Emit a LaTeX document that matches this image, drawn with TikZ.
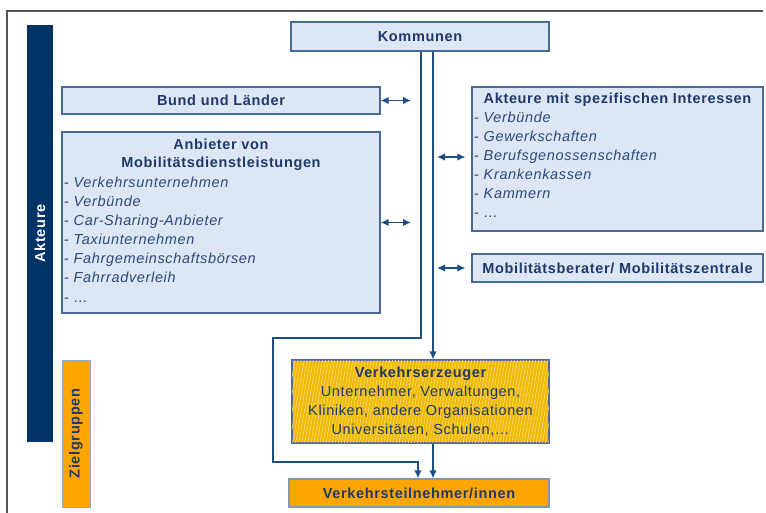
\documentclass[tikz,border=0pt]{standalone}
\usepackage{fontspec}
\setmainfont{Liberation Sans}[LetterSpace=4.5]
\usetikzlibrary{arrows.meta,patterns.meta}

\definecolor{navybar}{HTML}{003366}
\definecolor{boxfill}{HTML}{DCE6F5}
\definecolor{boxline}{HTML}{4A6A96}
\definecolor{txt}{HTML}{1F3A68}
\definecolor{itemtxt}{HTML}{2C4A78}
\definecolor{flowline}{HTML}{1F4E80}
\definecolor{orangefill}{HTML}{FFA500}
\definecolor{goldfill}{HTML}{F0BA00}
\definecolor{goldhatch}{HTML}{F7DA80}
\definecolor{framegray}{HTML}{555555}

\newcommand{\bodyfont}{\fontsize{14.5}{19}\selectfont}

\begin{document}
\begin{tikzpicture}[x=1pt,y=-1pt,
  box/.style={draw=boxline, fill=boxfill, line width=1.2pt, inner sep=0pt,
    text=txt, font=\bfseries\bodyfont},
  orangebox/.style={box, fill=orangefill, draw=boxline!70},
  title/.style={anchor=base, inner sep=0pt, text=txt, font=\bfseries\bodyfont},
  item/.style={anchor=base west, inner sep=0pt, text=itemtxt, font=\bodyfont},
  flow/.style={draw=flowline, line width=1.4pt},
  tip/.style={flow, -{Latex[length=8pt,width=7.5pt]}},
  dbl/.style={flow, {Latex[length=8pt,width=7.5pt]}-{Latex[length=8pt,width=7.5pt]}},
]
\useasboundingbox (0,0) rectangle (766,513);

% frame: top and left rule
\draw[framegray, line width=1.3pt] (7,513) -- (7,11) -- (763,11);

% side bars
\node[fill=navybar, inner sep=0pt, minimum width=26pt, minimum height=417pt] (akt) at (40,233.5) {};
\node[rotate=90, text=white, font=\bfseries\bodyfont] (aktT) at (akt.center) {Akteure};
\node[orangebox, draw=boxline!60, line width=1pt, minimum width=28pt, minimum height=147pt] (ziel) at (76,433.5) {};
\node[rotate=90, text=txt, font=\bfseries\bodyfont] (zielT) at (ziel.center) {Zielgruppen};

% actor boxes
\node[box, minimum width=258pt, minimum height=29pt] (kom) at (420,36.5) {Kommunen};
\node[box, minimum width=318pt, minimum height=27pt] (bund) at (221,100.5) {Bund und Länder};
\node[box, minimum width=318pt, minimum height=181pt] (anb) at (221,222.5) {};
\node[box, minimum width=291pt, minimum height=144pt] (spez) at (617.5,159) {};
\node[box, minimum width=291pt, minimum height=28pt] (mob) at (617.5,268) {Mobilitätsberater/ Mobilitätszentrale};

% provider list
\node[title] (anbT1) at (221,150) {Anbieter von};
\node[title] (anbT2) at (221,168) {Mobilitätsdienstleistungen};
\foreach \t [count=\i] in {Verkehrsunternehmen, Verbünde, Car-Sharing-Anbieter,
    Taxiunternehmen, Fahrgemeinschaftsbörsen, Fahrradverleih, \dots}
  \node[item] (anb\i) at (64,{188+19*(\i-1)}) {- \textit{\t}};

% special-interest list
\node[title] (spezT) at (617.5,104) {Akteure mit spezifischen Interessen};
\foreach \t [count=\i] in {Verbünde, Gewerkschaften, Berufsgenossenschaften,
    Krankenkassen, Kammern, \dots}
  \node[item] (spez\i) at (474,{123+19*(\i-1)}) {- \textit{\t}};

% target groups
\node[box, fill=goldfill, draw=boxline, minimum width=257pt, minimum height=83pt,
  postaction={pattern={Lines[angle=80,distance=3pt,line width=0.6pt]}, pattern color=goldhatch}
  ] (ve) at (420.5,401.5) {};
\node[title] (veT) at (420.5,377) {Verkehrserzeuger};
\node[title, font=\bodyfont] (ve1) at (420.5,396) {Unternehmer, Verwaltungen,};
\node[title, font=\bodyfont] (ve2) at (420.5,415) {Kliniken, andere Organisationen};
\node[title, font=\bodyfont] (ve3) at (420.5,434) {Universitäten, Schulen,\dots};
\draw[boxline, line width=1.2pt] (ve.north west) rectangle (ve.south east);
\node[orangebox, minimum width=260pt, minimum height=28pt] (vt) at (419,493) {Verkehrsteilnehmer/innen};

% connector helpers
\coordinate (trunk) at (433,0);
\coordinate (loopA) at (421,338);
\coordinate (loopB) at (273,338);
\coordinate (loopC) at (273,462);
\coordinate (loopD) at (418,462);
\coordinate (bundTip) at (411,100.5);
\coordinate (anbTip) at (411,222.5);
\coordinate (spezTip) at (437,157);
\coordinate (mobTip) at (437,268);

% connectors from Kommunen
\draw[tip] (kom.south -| trunk) -- (ve.north -| trunk);
\draw[tip] (ve.south -| trunk) -- (vt.north -| trunk);
\draw[tip] (kom.south -| loopA) -- (loopA) -- (loopB) -- (loopC) -- (loopD) -- (vt.north -| loopD);

% two-way links
\draw[dbl] (bund.east) -- (bundTip);
\draw[dbl] (anb.east) -- (anbTip);
\draw[dbl, shorten >=6pt] (spezTip) -- (spez.west |- spezTip);
\draw[dbl, shorten >=6pt] (mobTip) -- (mob.west);
\end{tikzpicture}
\end{document}
